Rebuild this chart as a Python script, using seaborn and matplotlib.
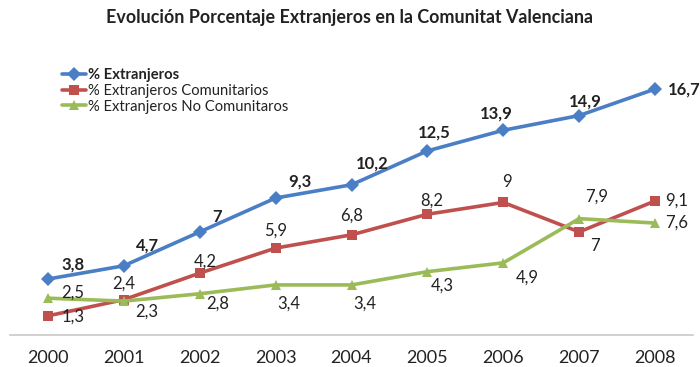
import matplotlib
matplotlib.use("Agg")
import matplotlib.pyplot as plt
import seaborn as sns
import pandas as pd

years = [2000, 2001, 2002, 2003, 2004, 2005, 2006, 2007, 2008]
extranjeros = [3.8, 4.7, 7, 9.3, 10.2, 12.5, 13.9, 14.9, 16.7]
comunitarios = [1.3, 2.4, 4.2, 5.9, 6.8, 8.2, 9, 7, 9.1]
no_comunitarios = [2.5, 2.3, 2.8, 3.4, 3.4, 4.3, 4.9, 7.9, 7.6]

series_names = ["% Extranjeros", "% Extranjeros Comunitarios", "% Extranjeros No Comunitaros"]
series_values = [extranjeros, comunitarios, no_comunitarios]
colors = ["#4A7EC5", "#C0504D", "#9BBB59"]
markers = ["D", "s", "^"]

# data-label offsets in pixels (dx right, dy down) for each point
offsets = [
    [(25, -15), (24, -20), (17, -15), (24, -17), (21, -21), (7, -18), (-7, -17), (6, -14), (29, 0)],
    [(25, 1), (0, -16), (6, -12), (0, -17), (0, -19), (4, -14), (4, -20), (16, 14), (22, 0)],
    [(25, -6), (23, 11), (18, 10), (13, 19), (13, 19), (15, 14), (24, 15), (17, -22), (22, 0)],
]

sns.set_theme(style="white")
plt.rcParams["font.family"] = ["Lato", "DejaVu Sans"]

rows = []
for name, vals in zip(series_names, series_values):
    for y, v in zip(years, vals):
        rows.append({"Año": y, "Valor": v, "Serie": name})
df = pd.DataFrame(rows)

W, H = 700, 367
fig = plt.figure(figsize=(7, 3.67), dpi=100)
ax = fig.add_axes([10 / W, 1 - 335 / H, 683 / W, 275 / H])

sns.lineplot(data=df, x="Año", y="Valor", hue="Serie", style="Serie",
             palette=colors, markers=markers, dashes=False, linewidth=2.6,
             markersize=7.5, markeredgewidth=0, ax=ax)

for i, (vals, offs) in enumerate(zip(series_values, offsets)):
    for y, v, (dx, dy) in zip(years, vals, offs):
        ax.annotate(f"{v:g}".replace(".", ","), (y, v), xytext=(dx, -dy),
                    textcoords="offset pixels", ha="center", va="center",
                    fontsize=12, color="#222222",
                    fontweight="bold" if i == 0 else "normal")

ax.set_xlim(1999.5, 2008.5)
ax.set_ylim(0, 275 / ((279 - 89) / (16.7 - 3.8)))
ax.set_xticks(years)
ax.set_xticklabels([str(y) for y in years], fontsize=13, color="#222222")
ax.tick_params(axis="x", length=0, pad=11)
ax.set_yticks([])
ax.set_xlabel("")
ax.set_ylabel("")
for side in ["top", "right", "left"]:
    ax.spines[side].set_visible(False)
ax.spines["bottom"].set_color("#C8C8C8")
ax.spines["bottom"].set_linewidth(1.2)

fig.text(0.5, 1 - 18 / H, "Evolución Porcentaje Extranjeros en la Comunitat Valenciana",
         ha="center", va="center", fontsize=12.9, fontweight="bold", color="#222222")

leg = ax.legend(loc="upper left", bbox_to_anchor=(62 / W, 1 - 68 / H),
                bbox_transform=fig.transFigure, frameon=False,
                fontsize=10.6, handlelength=1.6, handletextpad=0.15,
                labelspacing=0.12, borderaxespad=0, borderpad=0)
for t in leg.get_texts():
    t.set_color("#222222")
leg.get_texts()[0].set_fontweight("bold")

fig.savefig("out.png", dpi=100)
